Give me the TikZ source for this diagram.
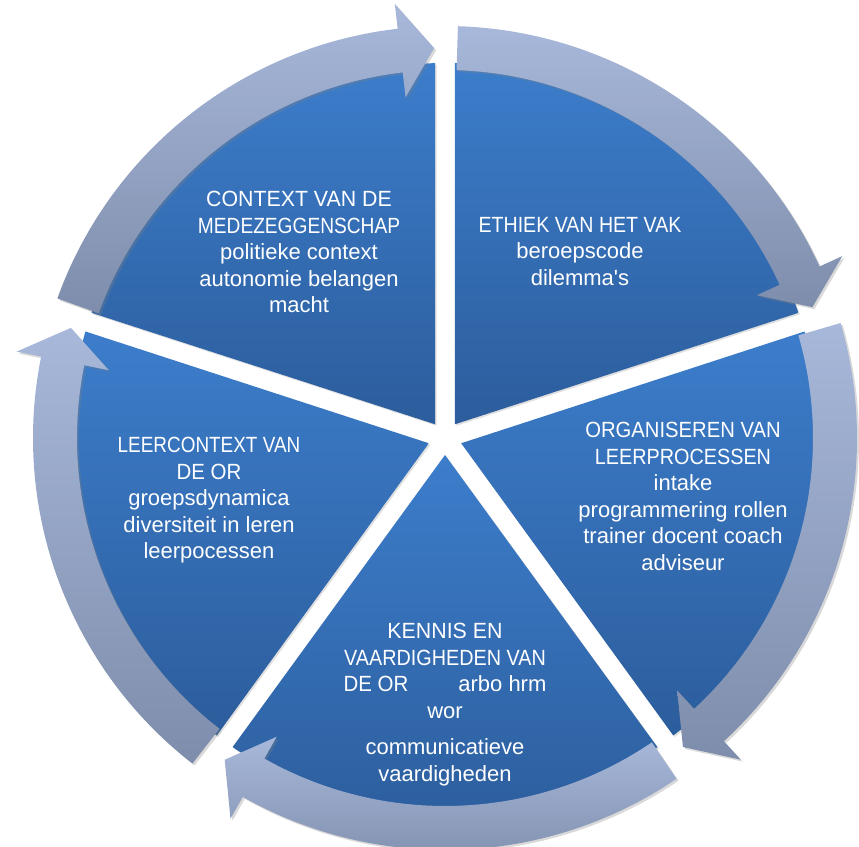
\documentclass[tikz,border=0pt]{standalone}
\usepackage{fontspec}
\setmainfont{Liberation Sans}
\usepackage{graphicx}
\usepackage{tikz}
\usetikzlibrary{shadows}
\usepackage{xcolor}
\definecolor{segtop}{HTML}{3C7DCB}
\definecolor{segbot}{HTML}{2C5D9C}
\definecolor{arrtop}{HTML}{A8B8DA}
\definecolor{arrbot}{HTML}{7E8DAB}
\newcommand{\narrow}[2]{\scalebox{#1}[1]{#2}}

\begin{document}
\begin{tikzpicture}[x=1pt, y=1pt,
    seg/.style={top color=segtop, bottom color=segbot,
        drop shadow={shadow xshift=1.5pt, shadow yshift=-1.5pt, opacity=0.25}},
    arr/.style={top color=arrtop, bottom color=arrbot,
        drop shadow={shadow xshift=2pt, shadow yshift=-2pt, opacity=0.3}},
    lbl/.style={text=white, align=center, anchor=north, inner sep=0pt,
        font=\fontsize{22pt}{26.5pt}\selectfont}]
    \useasboundingbox (0,0) rectangle (859,846);
    \coordinate (c) at (445,408);
    \begin{scope}[shift={(c)}]
    \path[seg] (126:17) -- (91.5:375) arc[start angle=91.5, end angle=160.5, radius=375] -- cycle;
    \path[seg] (54:17) -- (19.5:375) arc[start angle=19.5, end angle=88.5, radius=375] -- cycle;
    \path[seg] (-18:17) -- (-52.5:375) arc[start angle=-52.5, end angle=16.5, radius=375] -- cycle;
    \path[seg] (-90:17) -- (-124.5:375) arc[start angle=-124.5, end angle=-55.5, radius=375] -- cycle;
    \path[seg] (198:17) -- (163.5:375) arc[start angle=163.5, end angle=232.5, radius=375] -- cycle;
    \path[arr] (160.2:368) -- (160.2:412) arc[start angle=160.2, end angle=96.6, radius=412]
        -- (96.6:437) -- (91.6:390) -- (96.6:343) -- (96.6:368)
        arc[start angle=96.6, end angle=160.2, radius=368] -- cycle;
    \path[arr] (88.2:368) -- (88.2:412) arc[start angle=88.2, end angle=24.6, radius=412]
        -- (24.6:437) -- (19.6:390) -- (24.6:343) -- (24.6:368)
        arc[start angle=24.6, end angle=88.2, radius=368] -- cycle;
    \path[arr] (16.2:368) -- (16.2:412) arc[start angle=16.2, end angle=-47.4, radius=412]
        -- (-47.4:437) -- (-52.4:390) -- (-47.4:343) -- (-47.4:368)
        arc[start angle=-47.4, end angle=16.2, radius=368] -- cycle;
    \path[arr] (-55.8:368) -- (-55.8:412) arc[start angle=-55.8, end angle=-119.4, radius=412]
        -- (-119.4:437) -- (-124.4:390) -- (-119.4:343) -- (-119.4:368)
        arc[start angle=-119.4, end angle=-55.8, radius=368] -- cycle;
    \path[arr] (232.2:368) -- (232.2:412) arc[start angle=232.2, end angle=168.6, radius=412]
        -- (168.6:437) -- (163.6:390) -- (168.6:343) -- (168.6:368)
        arc[start angle=168.6, end angle=232.2, radius=368] -- cycle;
    \end{scope}
    \node[lbl] (1) at (299,655) {\narrow{0.97}{CONTEXT VAN DE}\\ \narrow{0.87}{MEDEZEGGENSCHAP}\\
        politieke context\\ autonomie belangen\\ macht};
    \node[lbl] (2) at (580,629) {\narrow{0.89}{ETHIEK VAN HET VAK}\\ beroepscode\\
        dilemma\textquotesingle s};
    \node[lbl] (3) at (683,424) {\narrow{0.92}{ORGANISEREN VAN}\\ \narrow{0.9}{LEERPROCESSEN}\\
        intake\\ programmering rollen\\ trainer docent coach\\ adviseur};
    \node[lbl] (4) at (209,409) {\narrow{0.86}{LEERCONTEXT VAN}\\ \narrow{0.93}{DE OR}\\
        groepsdynamica\\ diversiteit in leren\\ leerpocessen};
    \node[lbl] (5) at (445,223) {\narrow{0.97}{KENNIS EN}\\ \narrow{0.9}{VAARDIGHEDEN VAN}\\
        \narrow{0.93}{DE OR}\hspace{50pt}arbo hrm\\ wor\\[10pt]
        communicatieve\\ vaardigheden};
\end{tikzpicture}
\end{document}
